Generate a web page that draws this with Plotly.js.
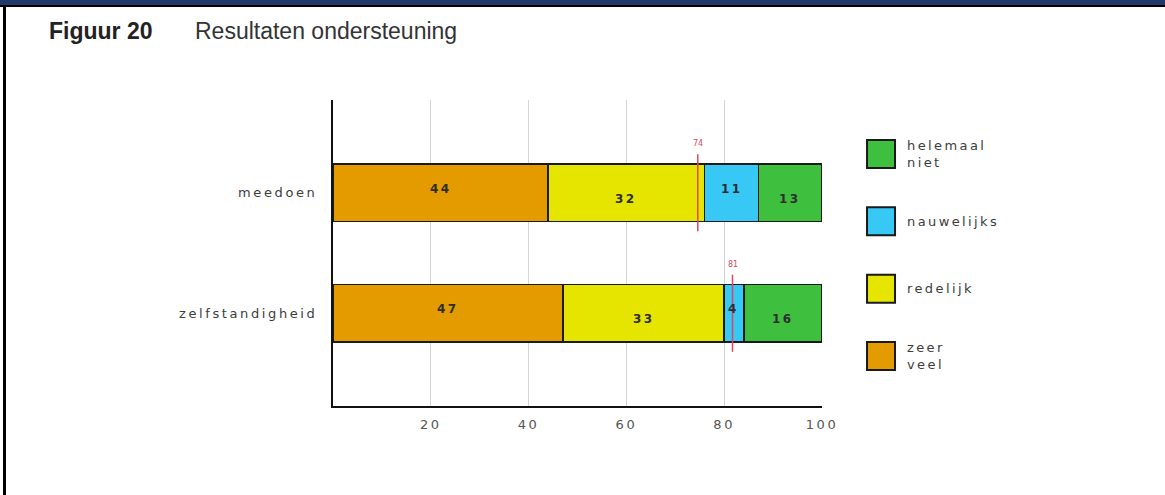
<!DOCTYPE html>
<html><head><meta charset="utf-8">
<script src="https://cdn.plot.ly/plotly-3.0.1.min.js"></script>
<style>
html,body{margin:0;padding:0;background:#fff;}
#wrap{position:relative;width:1165px;height:495px;overflow:hidden;}
#chart{position:absolute;left:0;top:0;width:1165px;height:495px;}
.deco{position:absolute;pointer-events:none;}
.xtick text,.ytick text{letter-spacing:2.6px;}
</style></head><body>
<div id="wrap"><div id="chart"></div>
<div class="deco" style="left:0;top:0;width:1165px;height:5px;background:#1f3a68"></div>
<div class="deco" style="left:0;top:5px;width:1165px;height:2px;background:#000"></div>
<div class="deco" style="left:3px;top:5px;width:3px;height:490px;background:#000"></div>
</div>
<script>
// ---- data ----
const categories = ['meedoen', 'zelfstandigheid'];
const seriesNames = ['zeer veel', 'redelijk', 'nauwelijks', 'helemaal niet'];
const zeerVeel = [44, 47];
const redelijk = [32, 33];
const nauwelijks = [11, 4];
const helemaalNiet = [13, 16];
const refPositions = [74.6, 81.7];
const refLabels = ['74', '81'];
const xTickVals = [20, 40, 60, 80, 100];
const titleBold = 'Figuur 20';
const titleText = 'Resultaten ondersteuning';

// ---- styles ----
const colors = ['#e39b00', '#e5e500', '#38c8f5', '#3ebf3e'];
const series = [zeerVeel, redelijk, nauwelijks, helemaalNiet];
const FONT = 'DejaVu Sans, Verdana, sans-serif';
const sp = (t, ls) => t.split('\n').map(l => `<span style="letter-spacing:${ls}px">${l}</span>`).join('<br>');

const traces = series.map((vals, si) => ({
  type: 'bar', orientation: 'h', y: categories, x: vals, name: seriesNames[si],
  marker: {color: colors[si], line: {color: '#1a1a1a', width: 1.5}},
  hoverinfo: 'skip', showlegend: false
}));

const annotations = [];
const shapes = [];

// value labels inside bars
categories.forEach((cat, ci) => {
  let start = 0;
  series.forEach((vals, si) => {
    const v = vals[ci];
    annotations.push({
      x: start + v / 2, y: cat, xref: 'x', yref: 'y', showarrow: false,
      text: '<b>' + sp(String(v), 2.5) + '</b>', yshift: si % 2 === 0 ? 4 : -6,
      font: {family: FONT, size: 12, color: '#2e2e2e'}
    });
    start += v;
  });
});

// reference markers
refPositions.forEach((p, i) => {
  shapes.push({type: 'line', xref: 'x', yref: 'y', x0: p, x1: p, y0: i - 0.32, y1: i + 0.32,
    line: {color: '#e0455e', width: 1.5}, layer: 'above'});
  annotations.push({x: p, y: categories[i], xref: 'x', yref: 'y', showarrow: false,
    text: refLabels[i], yshift: 49, font: {family: FONT, size: 8, color: '#e0455e'}});
});

// custom legend (top to bottom: reversed series order)
const legSquareX = 1.1207, legTextX = 1.1697, legTop = 0.8235, legStep = 0.22;
const legendText = ['zeer\nveel', 'redelijk', 'nauwelijks', 'helemaal\nniet'];
for (let k = 0; k < series.length; k++) {
  const si = series.length - 1 - k;
  const yc = legTop - k * legStep;
  shapes.push({type: 'rect', xref: 'paper', yref: 'paper', xsizemode: 'pixel', ysizemode: 'pixel',
    xanchor: legSquareX, yanchor: yc, x0: -14, x1: 14, y0: -14, y1: 14,
    fillcolor: colors[si], line: {color: '#1a1a1a', width: 2}});
  annotations.push({x: legTextX, y: yc, xref: 'paper', yref: 'paper', xanchor: 'left', yanchor: 'middle',
    align: 'left', showarrow: false, text: sp(legendText[si], 2.4),
    font: {family: FONT, size: 13, color: '#3c3c3c'}});
}

// titles
annotations.push({x: -0.585, y: 1.225, xref: 'paper', yref: 'paper', xanchor: 'left', yanchor: 'middle',
  showarrow: false, text: '<b>' + titleBold + '</b>', font: {family: 'Liberation Sans, Arial, sans-serif', size: 23, color: '#222'}});
annotations.push({x: -0.2863, y: 1.225, xref: 'paper', yref: 'paper', xanchor: 'left', yanchor: 'middle',
  showarrow: false, text: titleText, font: {family: 'Liberation Sans, Arial, sans-serif', size: 23, color: '#333'}});

const layout = {
  width: 1165, height: 495,
  margin: {l: 333, r: 343, t: 100, b: 89, pad: 0},
  paper_bgcolor: '#fff', plot_bgcolor: '#fff',
  barmode: 'stack', bargap: 0.52,
  showlegend: false,
  xaxis: {range: [0, 100], tickvals: xTickVals, ticktext: xTickVals.map(String), showgrid: true, gridcolor: '#d4d4d4', gridwidth: 1,
    zeroline: false, showline: true, linecolor: '#111', linewidth: 2, ticks: '', ticklabelstandoff: 5,
    tickfont: {family: FONT, size: 13, color: '#555'}, fixedrange: true},
  yaxis: {type: 'category', categoryorder: 'array', categoryarray: categories, range: [1.77, -0.77],
    showgrid: false, zeroline: false, showline: true, linecolor: '#111', linewidth: 2, ticks: '', ticklabelstandoff: 11,
    tickfont: {family: FONT, size: 13, color: '#3c3c3c'}, fixedrange: true},
  annotations: annotations,
  shapes: shapes
};

Plotly.newPlot('chart', traces, layout, {displayModeBar: false, staticPlot: true});
</script>
</body></html>
